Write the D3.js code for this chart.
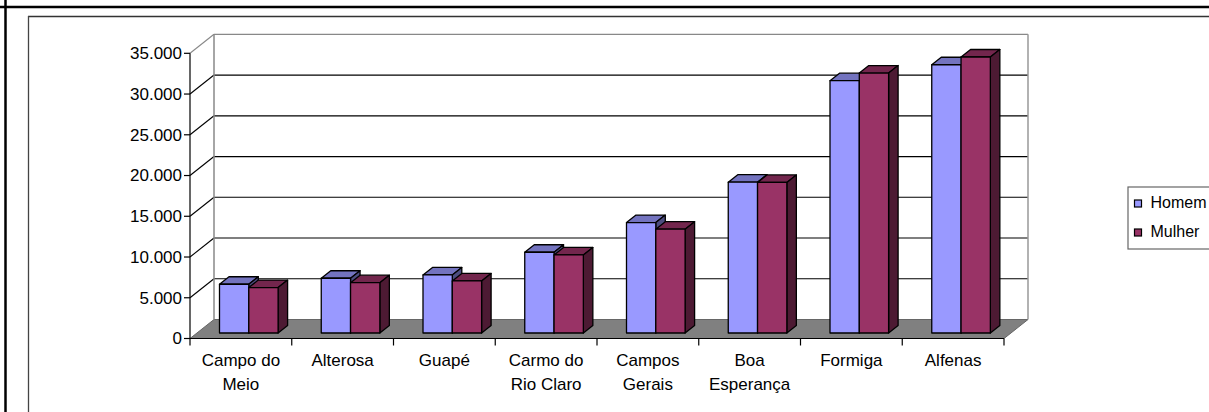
<!DOCTYPE html>
<html><head><meta charset="utf-8">
<script src="https://cdn.jsdelivr.net/npm/d3@7"></script>
<style>html,body{margin:0;padding:0;background:#fff;}svg{display:block;}</style>
</head><body>
<script>
const categories = [["Campo do","Meio"],["Alterosa"],["Guapé"],["Carmo do","Rio Claro"],["Campos","Gerais"],["Boa","Esperança"],["Formiga"],["Alfenas"]];
const seriesNames = ["Homem","Mulher"];
const homem = [5980, 6720, 7125, 9910, 13550, 18510, 30960, 32920];
const mulher = [5570, 6180, 6390, 9580, 12740, 18480, 31900, 33870];
const yTicks = [0,5000,10000,15000,20000,25000,30000,35000];
const yTickLabels = ["0","5.000","10.000","15.000","20.000","25.000","30.000","35.000"];

const W=1209,H=412;
const svg=d3.select("body").append("svg").attr("width",W).attr("height",H);
const font="Liberation Sans, Arial, sans-serif";
const fs=17;

// frames
svg.append("line").attr("x1",0).attr("x2",W).attr("y1",7).attr("y2",7).attr("stroke","#000").attr("stroke-width",2.5);
svg.append("line").attr("x1",5.5).attr("x2",5.5).attr("y1",0).attr("y2",H).attr("stroke","#000").attr("stroke-width",2.5);
svg.append("line").attr("x1",28).attr("x2",W).attr("y1",16.5).attr("y2",16.5).attr("stroke","#333").attr("stroke-width",1.3);
svg.append("line").attr("x1",28.5).attr("x2",28.5).attr("y1",16).attr("y2",H).attr("stroke","#444").attr("stroke-width",1.3);

const x0=d3.scaleBand().domain(d3.range(categories.length)).range([190,1004]).paddingInner(0).paddingOuter(0);
const y=d3.scaleLinear().domain([0,35000]).range([338.5,53.3]);
const DX=24, DY=19;
const xL=190, xR=1004;

// floor
svg.append("polygon").attr("points",[[xL,y(0)],[xL+DX,y(0)-DY],[xR+DX,y(0)-DY],[xR,y(0)]].map(p=>p.join(",")).join(" "))
  .attr("fill","#808080").attr("stroke","#666").attr("stroke-width",1);

// back wall gridlines
yTicks.forEach(t=>{
  if(t===0) return;
  const top = t===35000;
  const c = top ? "#888" : "#000";
  svg.append("line").attr("x1",xL+DX).attr("x2",xR+DX).attr("y1",y(t)-DY).attr("y2",y(t)-DY).attr("stroke",c).attr("stroke-width",1.2);
  svg.append("line").attr("x1",xL).attr("x2",xL+DX).attr("y1",y(t)).attr("y2",y(t)-DY).attr("stroke",c).attr("stroke-width",1.1);
});
// wall edges
svg.append("line").attr("x1",xL+DX).attr("x2",xL+DX).attr("y1",y(35000)-DY).attr("y2",y(0)-DY).attr("stroke","#888").attr("stroke-width",1.5);
svg.append("line").attr("x1",xR+DX).attr("x2",xR+DX).attr("y1",y(35000)-DY).attr("y2",y(0)-DY).attr("stroke","#999").attr("stroke-width",1.5);

// y axis
svg.append("line").attr("x1",xL).attr("x2",xL).attr("y1",y(35000)).attr("y2",y(0)).attr("stroke","#000").attr("stroke-width",1.2);
yTicks.forEach((t,i)=>{
  svg.append("line").attr("x1",xL-6).attr("x2",xL).attr("y1",y(t)).attr("y2",y(t)).attr("stroke","#000").attr("stroke-width",1.2);
  svg.append("text").attr("x",xL-8).attr("y",y(t)).attr("dy","0.35em").attr("text-anchor","end")
    .attr("font-family",font).attr("font-size",fs).attr("fill","#000").text(yTickLabels[i]);
});
// x axis
svg.append("line").attr("x1",xL).attr("x2",xR).attr("y1",y(0)).attr("y2",y(0)).attr("stroke","#000").attr("stroke-width",1.2);
d3.range(categories.length+1).forEach(i=>{
  const xx = i<categories.length ? x0(i) : xR;
  svg.append("line").attr("x1",xx).attr("x2",xx).attr("y1",y(0)).attr("y2",y(0)+7).attr("stroke","#000").attr("stroke-width",1.2);
});
categories.forEach((lines,i)=>{
  const t=svg.append("text").attr("text-anchor","middle").attr("font-family",font).attr("font-size",fs).attr("fill","#000");
  lines.forEach((l,j)=>t.append("tspan").attr("x",x0(i)+x0.bandwidth()/2).attr("y",366+j*23.5).text(l));
});

// bars
const colors=[{front:"#9999FF",top:"#7373BF",side:"#4D4D80"},{front:"#993366",top:"#73264D",side:"#4D1A33"}];
const barOff=29.5, barW=29.3, bdx=9.5, bdy=7.5, zeroShift=5.5;
const data=[homem,mulher];
categories.forEach((c,i)=>{
  data.forEach((s,k)=>{
    const xl=x0(i)+barOff+k*barW, xr=xl+barW;
    const yb=y(0)-zeroShift, yt=y(s[i])-zeroShift;
    const col=colors[k];
    const g=svg.append("g").attr("stroke","#000").attr("stroke-width",1.3).attr("stroke-linejoin","round");
    g.append("polygon").attr("points",[[xl,yt],[xl+bdx,yt-bdy],[xr+bdx,yt-bdy],[xr,yt]].join(" ")).attr("fill",col.top);
    g.append("polygon").attr("points",[[xr,yt],[xr+bdx,yt-bdy],[xr+bdx,yb-bdy],[xr,yb]].join(" ")).attr("fill",col.side);
    g.append("rect").attr("x",xl).attr("y",yt).attr("width",barW).attr("height",yb-yt).attr("fill",col.front);
  });
});

// legend
svg.append("rect").attr("x",1128).attr("y",187).attr("width",120).attr("height",62).attr("fill","#fff").attr("stroke","#666").attr("stroke-width",1.2);
seriesNames.forEach((n,k)=>{
  const yy=200+k*29;
  svg.append("rect").attr("x",1134.5).attr("y",yy).attr("width",7).attr("height",7).attr("fill",colors[k].front).attr("stroke","#000").attr("stroke-width",1.2);
  svg.append("text").attr("x",1150.5).attr("y",yy+7.5).attr("font-family",font).attr("font-size",16).attr("fill","#000").text(n);
});
</script>
</body></html>
